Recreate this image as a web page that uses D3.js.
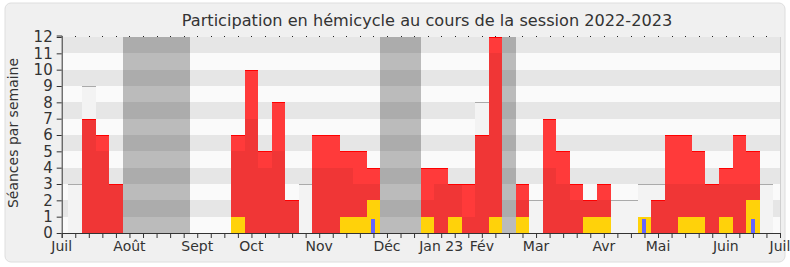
<!DOCTYPE html>
<html><head><meta charset="utf-8">
<script src="https://cdn.jsdelivr.net/npm/d3@7"></script>
<style>body{margin:0;background:#fff}svg{display:block}text{font-family:"DejaVu Sans",Verdana,sans-serif}</style>
</head><body><svg id="c" width="790" height="267"></svg>
<script>
// week index 1..52 (bars), ticks 0..53
const weeks = d3.range(1, 53);
const median       = [3,9,5,3,0,0,0,0,0,0,0,0,5,7,4,5,2,3,4,4,4,3,3,0,0,0,2,3,3,1,8,11,0,2,2,4,3,2,2,2,2,2,3,3,3,3,3,3,3,3,3,3];
const presence     = [0,7,6,3,0,0,0,0,0,0,0,0,6,10,5,8,2,0,6,6,5,5,4,0,0,0,4,4,3,3,6,12,0,3,0,7,5,3,2,3,0,0,0,2,6,6,5,3,4,6,5,0];
const participation= [0,0,0,0,0,0,0,0,0,0,0,0,1,0,0,0,0,0,0,0,1,1,2,0,0,0,1,0,1,0,0,1,0,1,0,0,0,0,1,1,0,0,1,0,0,1,1,0,1,0,2,0];
const questions    = [0,0,0,0,0,0,0,0,0,0,0,0,0,0,0,0,0,0,0,0,0,0,0.85,0,0,0,0,0,0,0,0,0,0,0,0,0,0,0,0,0,0,0,0.85,0,0,0,0,0,0,0,0.85,0];
const vacationWeeks = [5,6,7,8,9,24,25,26,33];
const monthLabels = ["Juil","Août","Sept","Oct","Nov","Déc","Jan 23","Fév","Mar","Avr","Mai","Juin","Juil"];
const monthTicks  = [0,5,10,14,19,24,28,31,35,40,44,49,53];
const yTicks = d3.range(0, 13);

const svg = d3.select("#c");
const x = d3.scaleLinear().domain([0, 53]).range([61.7, 780]);
const y = d3.scaleLinear().domain([0, 12]).range([233, 37]);
const L = w => Math.round(x(w - 0.5));
const R = w => Math.round(x(w + 0.5));

svg.append("rect").attr("x",5).attr("y",3).attr("width",780).attr("height",259).attr("rx",6)
  .attr("fill","#f0f0f0").attr("stroke","#dedede");

const g = svg.append("g").attr("shape-rendering", "crispEdges");
g.selectAll("rect.band").data(d3.range(0,12)).join("rect")
  .attr("x", Math.round(x(0))).attr("width", Math.round(x(53)) - Math.round(x(0)))
  .attr("y", d => y(d+1)).attr("height", d => y(d)-y(d+1))
  .attr("fill", d => d % 2 ? "#e6e6e6" : "#fafafa");

const rows = weeks.map((w,i) => ({w, m: median[i], p: presence[i], t: participation[i], q: questions[i]}));
const bar = (sel, val) => sel.attr("x", d => L(d.w)).attr("width", d => R(d.w) - L(d.w))
  .attr("y", d => Math.round(y(val(d)))).attr("height", d => Math.round(y(0)) - Math.round(y(val(d))));

// median bars
const md = rows.filter(d => d.m > 0);
bar(g.selectAll("rect.med").data(md).join("rect"), d => d.m).attr("fill", "#f3f3f3");
g.selectAll("rect.medtop").data(md).join("rect")
  .attr("x", d => L(d.w)).attr("width", d => R(d.w) - L(d.w))
  .attr("y", d => Math.round(y(d.m))).attr("height", 1).attr("fill", "#aaa");

// vacations, merged into runs
const runs = [];
vacationWeeks.forEach(w => {
  const r = runs[runs.length - 1];
  if (r && r[1] === w - 1) r[1] = w; else runs.push([w, w]);
});
g.selectAll("rect.vac").data(runs).join("rect")
  .attr("x", d => L(d[0])).attr("width", d => R(d[1]) - L(d[0]))
  .attr("y", Math.round(y(12))).attr("height", Math.round(y(0)) - Math.round(y(12)))
  .attr("fill", "#000").attr("fill-opacity", 0.25);

// presence
const pr = rows.filter(d => d.p > 0);
bar(g.selectAll("rect.pres").data(pr).join("rect"), d => d.p).attr("fill", "#ff3a3a");
bar(g.selectAll("rect.ov").data(pr.filter(d => d.m > 0)).join("rect"), d => Math.min(d.p, d.m))
  .attr("fill", "#000").attr("fill-opacity", 0.06);
g.selectAll("rect.prestop").data(pr).join("rect")
  .attr("x", d => L(d.w)).attr("width", d => R(d.w) - L(d.w))
  .attr("y", d => Math.round(y(d.p))).attr("height", 1).attr("fill", "#ff0000");

// participation
bar(g.selectAll("rect.part").data(rows.filter(d => d.t > 0)).join("rect"), d => d.t).attr("fill", "#ffd20a");

// questions
g.selectAll("rect.q").data(rows.filter(d => d.q > 0)).join("rect")
  .attr("x", d => Math.round(x(d.w)) - 2).attr("width", 4)
  .attr("y", d => Math.round(y(d.q))).attr("height", d => Math.round(y(0)) - Math.round(y(d.q))).attr("fill", "#6464ff");

// right border
g.append("rect").attr("x", Math.round(x(53))).attr("width", 1).attr("y", Math.round(y(12)))
  .attr("height", Math.round(y(0)) - Math.round(y(12))).attr("fill", "#d0d0d0");

// top dots
svg.selectAll("rect.dot").data(d3.range(1, 53)).join("rect")
  .attr("x", d => Math.round(x(d))).attr("y", 36).attr("width", 1).attr("height", 1).attr("fill", "#222");

// x axis
const xAxis = d3.axisBottom(x).tickValues(d3.range(0, 54)).tickSize(5).tickFormat("");
const xa = svg.append("g").attr("transform", `translate(0,${y(0)})`).call(xAxis);
xa.select(".domain").attr("stroke", "#333");
xa.selectAll(".tick line").attr("stroke", "#333");
svg.selectAll("text.month").data(monthLabels).join("text")
  .attr("x", (d,i) => x(monthTicks[i])).attr("y", 251)
  .attr("text-anchor", "middle").attr("font-size", 14).attr("fill", "#333").text(d => d);

// y axis
const yAxis = d3.axisLeft(y).tickValues(yTicks).tickSize(5).tickPadding(4);
const ya = svg.append("g").attr("transform", `translate(${x(0)},0)`).call(yAxis);
ya.select(".domain").attr("stroke", "#333").attr("d", `M-5,${y(12)-1}H0.5V${y(0)}`);
ya.selectAll(".tick line").attr("stroke", "#333");
ya.selectAll(".tick text").attr("font-size", 15).attr("fill", "#333")
  .attr("font-family", "DejaVu Sans");

svg.append("text").attr("transform", "translate(18,133) rotate(-90)")
  .attr("text-anchor", "middle").attr("font-size", 14).attr("fill", "#333").text("Séances par semaine");

const title = svg.append("text").attr("x", 427).attr("y", 26).attr("text-anchor", "middle")
  .attr("font-size", 16).attr("fill", "#333")
  .text("Participation en hémicycle au cours de la session 2022-2023");
const tw = title.node().getComputedTextLength();
title.attr("font-size", 16 * 491 / tw);
</script></body></html>
